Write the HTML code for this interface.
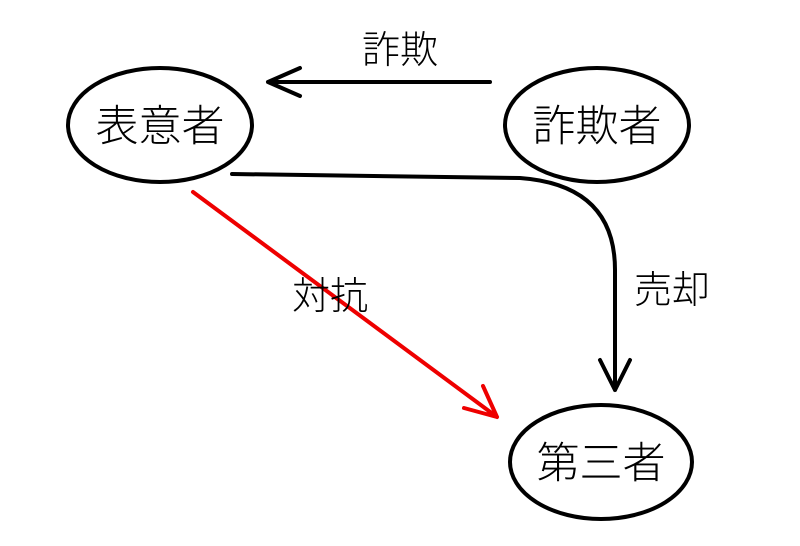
<!DOCTYPE html>
<html><head><meta charset="utf-8"><style>
html,body{margin:0;padding:0;background:#fff;}
svg text{font-family:"Liberation Sans","Noto Sans CJK JP",sans-serif;fill:#000;font-weight:300;}
</style></head><body>
<svg width="800" height="541" viewBox="0 0 800 541" xmlns="http://www.w3.org/2000/svg">
<g fill="none" stroke="#000" stroke-width="4" stroke-linecap="round" stroke-linejoin="round">
<ellipse cx="160" cy="125" rx="92" ry="57"/>
<ellipse cx="597" cy="125" rx="92" ry="57"/>
<ellipse cx="601" cy="462" rx="91" ry="57"/>
<path d="M490 82 L268 82 M300 68 L268 82 L300 96"/>
<path d="M232 174 L520 178 Q615 185 615 270 L615 390 M600 360 L615 390 L630 360"/>
</g>
<g fill="none" stroke="#e00" stroke-width="4" stroke-linecap="round" stroke-linejoin="round">
<path d="M193 192 L497 417 M483 386 L497 417 L464 408"/>
</g>
<g font-size="43" text-anchor="middle">
<text x="160" y="141">表意者</text>
<text x="597" y="141">詐欺者</text>
<text x="601" y="478">第三者</text>
</g>
<g font-size="38" text-anchor="middle">
<text x="400" y="63">詐欺</text>
<text x="330" y="309">対抗</text>
<text x="672" y="303">売却</text>
</g>
</svg>
</body></html>
